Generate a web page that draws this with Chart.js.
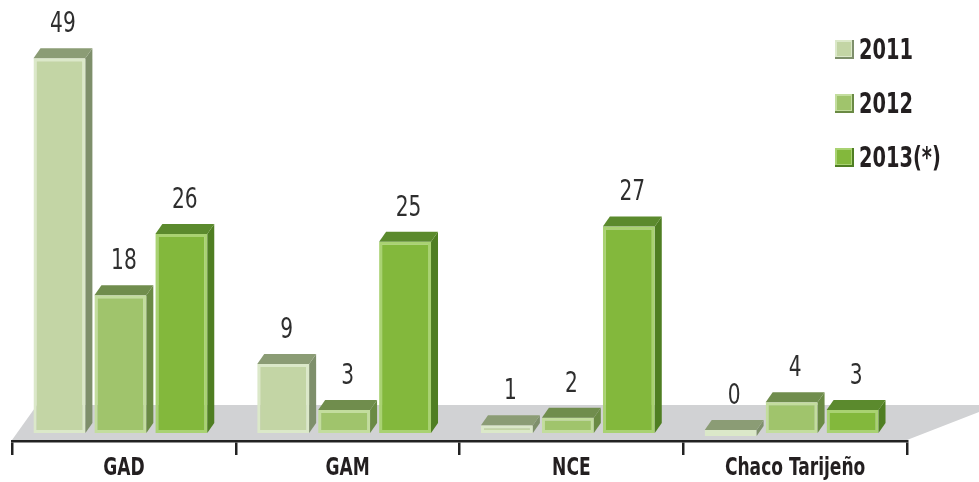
<!DOCTYPE html>
<html>
<head>
<meta charset="utf-8">
<script src="https://cdn.jsdelivr.net/npm/chart.js@4.4.0/dist/chart.umd.min.js"></script>
<style>
  html, body { margin: 0; padding: 0; background: #fff; }
  #caixa { width: 979px; height: 482px; }
</style>
</head>
<body>
<div id="caixa"><canvas id="grafico"></canvas></div>
<script>
const categorias = ['GAD', 'GAM', 'NCE', 'Chaco Tarijeño'];
const anos = ['2011', '2012', '2013(*)'];
const valores2011 = [49, 9, 1, 0];
const valores2012 = [18, 3, 2, 4];
const valores2013 = [26, 25, 27, 3];

// cores: frente, borda clara, lateral, tampa
const frente = ['#c3d5a5', '#a0c46c', '#83b83c'];
const borda = ['#dbe8c9', '#c3dd9e', '#a9d272'];
const lateral = ['#7e8f6b', '#6a8a44', '#4f7e22'];
const tampa = ['#8b9c75', '#708d4d', '#5b8a2d'];

const FONTE = '"DejaVu Sans Condensed", "DejaVu Sans", sans-serif';
const PROF_X = 7;
const PROF_Y = 10;

// texto estreito (a fonte original é condensada)
function textoEstreito(ctx, texto, x, y, fonte, sx, alinhamento) {
  ctx.save();
  ctx.translate(x, y);
  ctx.scale(sx, 1);
  ctx.font = fonte;
  ctx.textAlign = alinhamento;
  ctx.textBaseline = 'alphabetic';
  ctx.fillText(texto, 0, 0);
  ctx.restore();
}

const efeito3d = {
  id: 'efeito3d',
  beforeDraw(chart) {
    // piso cinza
    const { ctx, chartArea: a } = chart;
    ctx.save();
    ctx.fillStyle = '#d1d2d4';
    ctx.beginPath();
    ctx.moveTo(a.left, a.bottom - 1);
    ctx.lineTo(a.right, a.bottom - 1);
    ctx.lineTo(a.right + 90, a.bottom - 36);
    ctx.lineTo(a.left + 25, a.bottom - 36);
    ctx.closePath();
    ctx.fill();
    ctx.restore();
  },
  afterDatasetsUpdate(chart) {
    chart.data.datasets.forEach((ds, i) => {
      chart.getDatasetMeta(i).data.forEach(barra => { barra.x -= PROF_X / 2; });
    });
  },
  afterDatasetsDraw(chart) {
    const ctx = chart.ctx;
    ctx.save();
    chart.data.datasets.forEach((ds, i) => {
      chart.getDatasetMeta(i).data.forEach((barra, j) => {
        const { x, y, base, width } = barra.getProps(['x', 'y', 'base', 'width'], true);
        const topo = Math.min(y, base);
        const fundo = Math.max(y, base);
        const esq = x - width / 2;
        const dir = x + width / 2;

        ctx.fillStyle = lateral[i];
        ctx.beginPath();
        ctx.moveTo(dir, topo);
        ctx.lineTo(dir + PROF_X, topo - PROF_Y);
        ctx.lineTo(dir + PROF_X, fundo - PROF_Y);
        ctx.lineTo(dir, fundo);
        ctx.closePath();
        ctx.fill();

        ctx.fillStyle = tampa[i];
        ctx.beginPath();
        ctx.moveTo(esq, topo);
        ctx.lineTo(esq + PROF_X, topo - PROF_Y);
        ctx.lineTo(dir + PROF_X, topo - PROF_Y);
        ctx.lineTo(dir, topo);
        ctx.closePath();
        ctx.fill();

        ctx.fillStyle = '#2e2e2e';
        textoEstreito(ctx, String(ds.data[j]), x + PROF_X / 2, topo - PROF_Y - 16, '28px ' + FONTE, 0.8, 'center');
      });
    });
    ctx.restore();
  },
  afterDraw(chart) {
    const ctx = chart.ctx;
    ctx.save();
    // rótulos das categorias
    const escalaX = chart.scales.x;
    ctx.fillStyle = '#231f20';
    chart.data.labels.forEach((rotulo, k) => {
      textoEstreito(ctx, rotulo, escalaX.getPixelForValue(k), 475, 'bold 25px ' + FONTE, 0.76, 'center');
    });
    // legenda
    chart.data.datasets.forEach((ds, i) => {
      const yTopo = 40 + i * 54;
      ctx.fillStyle = lateral[i];
      ctx.fillRect(835, yTopo, 19, 19);
      ctx.fillStyle = borda[i];
      ctx.fillRect(835, yTopo, 17, 17);
      ctx.fillStyle = frente[i];
      ctx.fillRect(837, yTopo + 2, 14, 14);
      ctx.fillStyle = '#231f20';
      textoEstreito(ctx, ds.label, 859, yTopo + 19, 'bold 28px ' + FONTE, 0.77, 'left');
    });
    ctx.restore();
  }
};

const conjuntos = [valores2011, valores2012, valores2013].map((valores, i) => ({
  label: anos[i],
  data: valores,
  backgroundColor: frente[i],
  borderColor: borda[i],
  borderWidth: 3,
  borderSkipped: false,
  minBarLength: 6,
  categoryPercentage: 0.817,
  barPercentage: 0.852
}));

const ctx = document.getElementById('grafico').getContext('2d');
const grafico = new Chart(ctx, {
  type: 'bar',
  data: {
    labels: categorias,
    datasets: conjuntos
  },
  options: {
    responsive: true,
    maintainAspectRatio: false,
    animation: false,
    layout: { padding: { left: 12, right: 72, top: 0, bottom: 0 } },
    plugins: {
      legend: { display: false },
      tooltip: { enabled: false }
    },
    scales: {
      x: {
        grid: { display: true, drawOnChartArea: false, drawTicks: true, tickLength: 14, color: '#222', lineWidth: 2.5, offset: true },
        border: { display: true, color: '#222', width: 2.5 },
        ticks: { display: false },
        afterFit(escala) { escala.height = 41; }
      },
      y: {
        display: false,
        min: -1.05,
        max: 56.6
      }
    }
  },
  plugins: [efeito3d]
});
</script>
</body>
</html>
